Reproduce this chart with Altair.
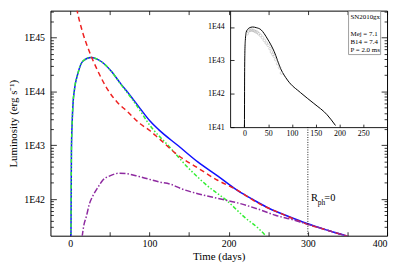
import altair as alt
import pandas as pd

# ---------------- data ----------------
total_t = [0.8, 1.5, 2.5, 3.4, 5.4, 9.6, 15.8, 26, 38.6, 51, 63.4, 75.9, 88.3, 100.7,
           111.6, 136.4, 161, 186, 211, 232, 252, 275, 298, 325, 350]
total_L = [1.00e41, 7.94e42, 2.82e43, 5.62e43, 1.10e44, 2.14e44, 3.63e44, 4.27e44, 3.63e44,
           2.45e44, 1.41e44, 8.32e43, 4.79e43, 2.82e43, 1.95e43, 9.77e42, 4.90e42, 2.69e42,
           1.45e42, 9.55e41, 6.61e41, 4.79e41, 3.55e41, 2.63e41, 2.04e41]

diff_t = [0.8, 1.5, 2.5, 3.4, 5.4, 9.6, 15.8, 26, 38.6, 51, 63.4, 75.9, 88.3, 99, 124,
          149, 173.7, 198.6, 221, 238, 248]
diff_L = [1.00e41, 7.94e42, 2.82e43, 5.62e43, 1.10e44, 2.14e44, 3.63e44, 4.27e44, 3.63e44,
          2.45e44, 1.38e44, 7.94e43, 4.37e43, 2.51e43, 9.77e42, 3.80e42, 1.74e42, 9.12e41,
          4.47e41, 2.82e41, 2.00e41]

mag_t = [3, 5, 8.7, 15.8, 24.1, 34.5, 46.9, 59.3, 71.8, 88.3, 100.7, 111.6, 136.4, 161,
         186, 207, 238, 268, 298, 325, 350]
mag_L = [1.00e46, 6.31e45, 3.16e45, 1.23e45, 5.50e44, 2.45e44, 1.10e44, 6.31e43, 4.27e43,
         2.51e43, 1.86e43, 1.35e43, 6.46e42, 3.80e42, 2.24e42, 1.58e42, 8.32e41, 5.25e41,
         3.47e41, 2.63e41, 2.04e41]

neb_t = [15, 17, 20.4, 24, 28.6, 35, 41, 50, 62, 72, 86.8, 111.6, 128, 140.5, 161, 190,
         211, 240, 259, 280, 298, 325, 350]
neb_L = [2.00e41, 3.16e41, 4.79e41, 7.94e41, 1.15e42, 1.66e42, 2.24e42, 2.69e42, 3.02e42,
         2.95e42, 2.63e42, 2.09e42, 1.86e42, 1.55e42, 1.26e42, 1.00e42, 8.51e41, 6.31e41,
         5.01e41, 4.17e41, 3.47e41, 2.63e41, 2.04e41]

inset_t = [0.2, 0.5, 1, 2, 4, 6.9, 10, 17.4, 25, 34.7, 48.7, 62.8, 76.6, 90.6, 118.4,
           146, 174, 191.6]
inset_L = [1.00e41, 3.16e42, 1.58e43, 3.98e43, 7.08e43, 8.51e43, 9.33e43, 1.00e44, 9.55e43,
           8.32e43, 4.37e43, 1.82e43, 5.50e42, 2.57e42, 1.07e42, 5.13e41, 2.34e41, 1.12e41]

obs_t = [6, 9, 12, 15, 18, 21, 24, 27, 30, 34, 38, 42, 46, 50, 54, 57, 60, 63, 66, 70, 74, 78]
obs_L = [6.31e43, 7.59e43, 7.94e43, 8.13e43, 7.94e43, 7.59e43, 7.24e43, 6.92e43, 6.31e43,
         5.62e43, 4.79e43, 3.98e43, 3.31e43, 2.82e43, 2.24e43, 1.78e43, 1.51e43, 1.32e43,
         1.05e43, 7.94e42, 6.03e42, 4.17e42]

sn_name = "SN2010gx"
params = ["Mej = 7.1", "B14 = 7.4", "P = 2.0 ms"]
rph_day = 300

main_x_ticks = [0, 100, 200, 300, 400]
main_x_minor = [0, 50, 100, 150, 200, 250, 300, 350, 400]
main_y_lo, main_y_hi = 41.32, 45.5
main_y_decades = [1e42, 1e43, 1e44, 1e45]
main_y_minor = [m * 10.0 ** e for e in (41, 42, 43, 44, 45) for m in range(2, 10)
                if 10 ** main_y_lo < m * 10.0 ** e < 10 ** main_y_hi]
inset_x_ticks = [0, 50, 100, 150, 200, 250]
inset_y_decades = [1e41, 1e42, 1e43, 1e44]

W, H = 341, 228
IN_LEFT, IN_BOTTOM = 182, 118
FONT = "Liberation Serif"
LABEXP = "'1E' + round(log(datum.value)/LN10)"


def ax(**kw):
    base = dict(labelFont=FONT, titleFont=FONT, labelColor="black", titleColor="black",
                domainColor="black", tickColor="black", grid=False, titleFontWeight="normal")
    base.update(kw)
    return alt.Axis(**base)


def tick_axis(orient, offset, values, size):
    return ax(orient=orient, offset=offset, values=values, tickSize=size, labels=False,
              domain=False, title=None, tickWidth=0.8)


xs = alt.Scale(domain=[-25, 400], nice=False, zero=False)
ys = alt.Scale(type="log", domain=[10 ** main_y_lo, 10 ** main_y_hi], nice=False)
xi = alt.Scale(domain=[-30, 300], range=[IN_LEFT, W], nice=False, zero=False)
yi = alt.Scale(type="log", domain=[1e41, 3.09e44], range=[IN_BOTTOM, 0], nice=False)

rule_top = 10 ** (main_y_hi - IN_BOTTOM / H * (main_y_hi - main_y_lo))

df_total = pd.DataFrame({"t": total_t, "L": total_L})
df_diff = pd.DataFrame({"t": diff_t, "L": diff_L})
df_mag = pd.DataFrame({"t": mag_t, "L": mag_L})
df_neb = pd.DataFrame({"t": neb_t, "L": neb_L})
df_in = pd.DataFrame({"t": inset_t, "L": inset_L})
df_obs = pd.DataFrame({"t": obs_t, "L": obs_L})

blue = alt.Chart(df_total).mark_line(color="#1010ff", strokeWidth=1.5, clip=True,
                                     interpolate="monotone").encode(
    x=alt.X("t:Q", scale=xs, axis=ax(orient="bottom", values=main_x_ticks, ticks=False,
                                     tickSize=0, domain=False, labelFontSize=10,
                                     labelPadding=3, title="Time (days)", titleFontSize=11,
                                     titlePadding=2)),
    y=alt.Y("L:Q", scale=ys, axis=ax(orient="left", values=main_y_decades, ticks=False,
                                     tickSize=0, domain=False, labelFontSize=10,
                                     labelPadding=6, labelExpr=LABEXP,
                                     title="Luminosity (erg s\u207b\u00b9)", titleFontSize=11,
                                     titlePadding=5)),
)

green = alt.Chart(df_diff).mark_line(color="#33ee33", strokeWidth=1.5, clip=True,
                                     interpolate="monotone",
                                     strokeDash=[4, 2, 1.5, 2, 1.5, 2]).encode(
    x=alt.X("t:Q", scale=xs, axis=tick_axis("bottom", -H, main_x_minor, 4)),
    y=alt.Y("L:Q", scale=ys, axis=tick_axis("right", -W, main_y_minor, 3)),
)

red = alt.Chart(df_mag).mark_line(color="#ee2020", strokeWidth=1.5, clip=True,
                                  interpolate="monotone", strokeDash=[5, 3.5]).encode(
    x=alt.X("t:Q", scale=xs, axis=tick_axis("top", -H, main_x_minor, 4)),
    y=alt.Y("L:Q", scale=ys, axis=tick_axis("right", -W, main_y_decades, 6)),
)

purple = alt.Chart(df_neb).mark_line(color="#8e2aa0", strokeWidth=1.5, clip=True,
                                     interpolate="monotone",
                                     strokeDash=[6, 2, 1.5, 2]).encode(
    x=alt.X("t:Q", scale=xs, axis=None),
    y=alt.Y("L:Q", scale=ys, axis=tick_axis("left", -W, main_y_decades, 6)),
)

rph_rule = alt.Chart(pd.DataFrame({"d": [rph_day]})).mark_rule(
    color="black", strokeWidth=0.9, strokeDash=[1, 1.5]).encode(
    x=alt.X(datum=rph_day, scale=xs, axis=None),
    y=alt.Y(datum=rule_top, scale=ys, axis=tick_axis("left", -W, main_y_minor, 3)),
    y2=alt.Y2(datum=10 ** main_y_lo),
)

txt = dict(font=FONT, color="black", align="left", baseline="middle")
r_txt = alt.Chart().mark_text(text="R", fontSize=10.5, **txt).encode(
    x=alt.value(264), y=alt.value(190))
ph_txt = alt.Chart().mark_text(text="ph", fontSize=7.5, **txt).encode(
    x=alt.value(270.8), y=alt.value(195))
eq_txt = alt.Chart().mark_text(text="=0", fontSize=10.5, **txt).encode(
    x=alt.value(277.5), y=alt.value(190))

inset_line = alt.Chart(df_in).mark_line(color="black", strokeWidth=1.0, clip=True,
                                        interpolate="monotone").encode(
    x=alt.X("t:Q", scale=xi, axis=ax(orient="bottom", offset=-(H - IN_BOTTOM),
                                     values=inset_x_ticks, tickSize=0, ticks=False,
                                     labelFontSize=8, labelPadding=2, domain=True,
                                     domainWidth=0.9, title=None)),
    y=alt.Y("L:Q", scale=yi, axis=ax(orient="left", offset=-IN_LEFT, values=inset_y_decades,
                                     tickSize=0, ticks=False, labelFontSize=8,
                                     labelPadding=6, labelExpr=LABEXP, domain=True,
                                     domainWidth=0.9, title=None)),
)

inset_pts = alt.Chart(df_obs).mark_point(shape="circle", size=7, filled=False,
                                         color="#a0a0a0", strokeWidth=0.6).encode(
    x=alt.X("t:Q", scale=xi, axis=tick_axis("top", -IN_BOTTOM, inset_x_ticks, 3)),
    y=alt.Y("L:Q", scale=yi, axis=tick_axis("right", -(W - IN_LEFT), inset_y_decades, 4)),
)

box = alt.Chart().mark_rect(fill="white", stroke="#888888", strokeWidth=0.8).encode(
    x=alt.value(302), x2=alt.value(334.5), y=alt.value(0.5), y2=alt.value(44.5))
name_txt = alt.Chart().mark_text(text=sn_name, fontSize=7, **txt).encode(
    x=alt.value(304), y=alt.value(6.7))
p_layers = [alt.Chart().mark_text(text=p, fontSize=7, **txt).encode(
    x=alt.value(304), y=alt.value(yy)) for p, yy in zip(params, [23.8, 31.8, 39.8])]

chart = alt.layer(
    blue, green, red, purple, rph_rule, r_txt, ph_txt, eq_txt,
    inset_line, inset_pts, box, name_txt, *p_layers
).resolve_scale(x="independent", y="independent").properties(
    width=W, height=H,
    autosize=alt.AutoSizeParams(type="none"),
    padding={"left": 43, "top": 1, "right": 4, "bottom": 27},
    background="white",
).configure_view(stroke="black", strokeWidth=1)

chart.save("out.html", embed_options={"renderer": "svg", "actions": False})
